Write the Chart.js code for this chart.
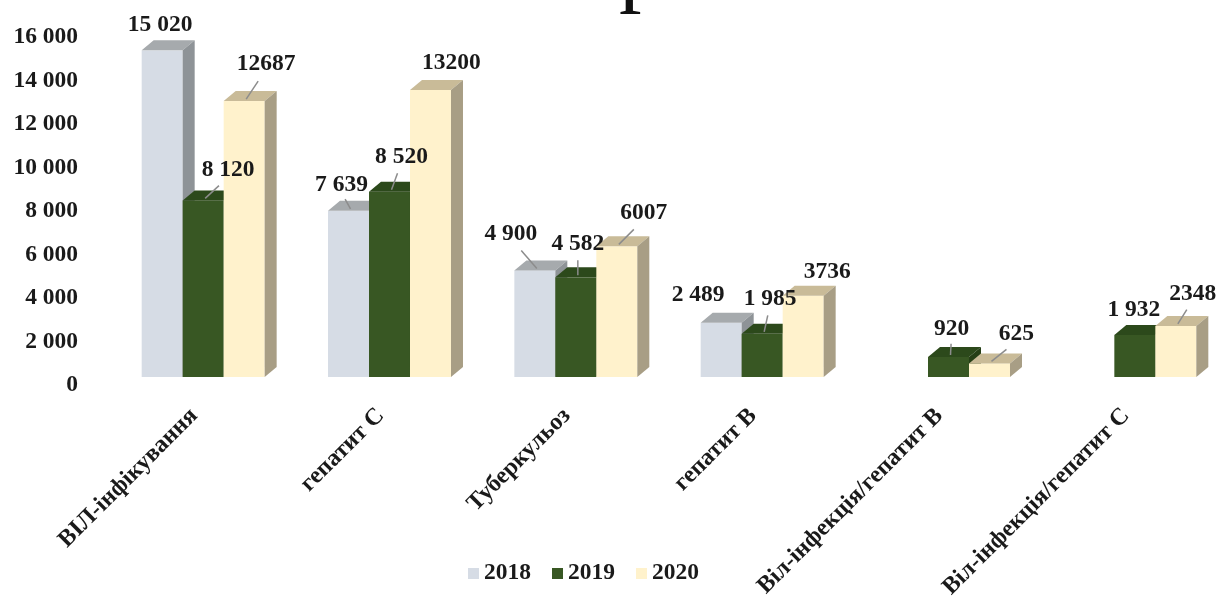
<!DOCTYPE html>
<html lang="uk">
<head>
<meta charset="utf-8">
<title>Захворювання 2018–2020</title>
<script src="https://cdn.jsdelivr.net/npm/chart.js@4.4.1/dist/chart.umd.min.js"></script>
<style>
  html, body { margin: 0; padding: 0; background: #fff; overflow: hidden; }
  #wrap { position: relative; width: 1232px; height: 596px; }
</style>
</head>
<body>
<div id="wrap"><canvas id="chart"></canvas></div>
<script>
// Категорії та значення по роках
const categories = [
  'ВІЛ-інфікування',
  'гепатит С',
  'Туберкульоз',
  'гепатит В',
  'Віл-інфекція/гепатит В',
  'Віл-інфекція/гепатит С'
];
const years = ['2018', '2019', '2020'];
const values2018 = [15020, 7639, 4900, 2489, null, null];
const values2019 = [8120, 8520, 4582, 1985, 920, 1932];
const values2020 = [12687, 13200, 6007, 3736, 625, 2348];
const yTicks = [0, 2000, 4000, 6000, 8000, 10000, 12000, 14000, 16000];

// Кольори граней: фронт, верх, бік
const faceColors = [
  { front: '#d6dce5', top: '#a6aaad', side: '#8e9397' },
  { front: '#385723', top: '#2c491b', side: '#253f16' },
  { front: '#fff2cc', top: '#c9bb98', side: '#a89e85' }
];

// Зсув підписів відносно верху стовпчика, та чи малювати виносну лінію
const labelOffsets = [
  [[-2, -25], [-7, -26], [-24, -37], [-23, -28], null, null],
  [[25, -30], [12, -35], [2, -33], [8, -35], [3, -28], [-1, -25]],
  [[22, -37], [21, -27], [27, -33], [24, -24], [27, -29], [17, -32]]
];
const leaderLines = [
  [false, true, true, false, false, false],
  [true, true, true, true, true, false],
  [true, false, true, false, true, true]
];
// Роки 2018-2019 з пробілом між тисячами, 2020 - без
const spacedThousands = [true, true, false];

const DEPTH_X = 12;
const DEPTH_Y = 10;
const LIFT = 8;
const FONT = 'Liberation Serif, Times New Roman, serif';
const TEXT_SIZE = 23.5;

function formatSpaced(v) {
  return String(v).replace(/\B(?=(\d{3})+(?!\d))/g, ' ');
}

// Малює об'ємні стовпчики поверх (прозорих) стандартних
const bar3d = {
  id: 'bar3d',
  afterDatasetsDraw(chart) {
    const ctx = chart.ctx;
    const metas = chart.data.datasets.map((d, i) => chart.getDatasetMeta(i));
    ctx.save();
    for (let c = 0; c < categories.length; c++) {
      metas.forEach((meta, di) => {
        const value = chart.data.datasets[di].data[c];
        if (value === null || value === undefined) return;
        const el = meta.data[c];
        const p = el.getProps(['x', 'y', 'base', 'width'], true);
        const x0 = p.x - p.width / 2;
        const x1 = p.x + p.width / 2;
        const top = p.y - LIFT;
        const bottom = p.base - LIFT;
        const col = faceColors[di];

        ctx.fillStyle = col.front;
        ctx.fillRect(x0, top, x1 - x0, bottom - top);

        ctx.fillStyle = col.top;
        ctx.beginPath();
        ctx.moveTo(x0, top);
        ctx.lineTo(x0 + DEPTH_X, top - DEPTH_Y);
        ctx.lineTo(x1 + DEPTH_X, top - DEPTH_Y);
        ctx.lineTo(x1, top);
        ctx.closePath();
        ctx.fill();

        ctx.fillStyle = col.side;
        ctx.beginPath();
        ctx.moveTo(x1, top);
        ctx.lineTo(x1 + DEPTH_X, top - DEPTH_Y);
        ctx.lineTo(x1 + DEPTH_X, bottom - DEPTH_Y);
        ctx.lineTo(x1, bottom);
        ctx.closePath();
        ctx.fill();
      });
    }
    ctx.restore();
  }
};

// Підписи значень з виносними лініями
const valueLabels = {
  id: 'valueLabels',
  afterDatasetsDraw(chart) {
    const ctx = chart.ctx;
    ctx.save();
    ctx.font = 'bold ' + TEXT_SIZE + 'px ' + FONT;
    ctx.textAlign = 'center';
    ctx.textBaseline = 'middle';
    chart.data.datasets.forEach((ds, di) => {
      const meta = chart.getDatasetMeta(di);
      ds.data.forEach((value, c) => {
        if (value === null || value === undefined) return;
        const el = meta.data[c];
        const off = labelOffsets[di][c];
        const bx = el.x;
        const by = el.y - LIFT;
        const lx = bx + off[0];
        const ly = by + off[1];
        if (leaderLines[di][c]) {
          const sx = bx + 2, sy = by - 2;
          const ex = lx + (sx - lx) * 0.4;
          const ey = ly + 11 + (sy - ly - 11) * 0.25;
          ctx.strokeStyle = '#8c8c8c';
          ctx.lineWidth = 1.5;
          ctx.beginPath();
          ctx.moveTo(sx, sy);
          ctx.lineTo(ex, ey);
          ctx.stroke();
        }
        ctx.fillStyle = '#1a1a1a';
        const text = spacedThousands[di] ? formatSpaced(value) : String(value);
        ctx.fillText(text, lx, ly);
      });
    });
    ctx.restore();
  }
};

// Легенда внизу та залишок заголовка над графіком
const bottomLegend = {
  id: 'bottomLegend',
  afterDraw(chart) {
    const ctx = chart.ctx;
    ctx.save();
    ctx.font = '90px ' + FONT;
    ctx.fillStyle = '#111';
    ctx.textAlign = 'left';
    ctx.textBaseline = 'alphabetic';
    ctx.fillText('р', 619, -5);

    ctx.font = 'bold ' + TEXT_SIZE + 'px ' + FONT;
    ctx.textBaseline = 'middle';
    let x = 468;
    const y = 573;
    chart.data.datasets.forEach((ds, di) => {
      ctx.fillStyle = faceColors[di].front;
      ctx.fillRect(x, y - 5, 11, 11);
      ctx.fillStyle = '#1a1a1a';
      ctx.fillText(ds.label, x + 16, y);
      x += 16 + ctx.measureText(ds.label).width + 21;
    });
    ctx.restore();
  }
};

const seriesValues = [values2018, values2019, values2020];

new Chart(document.getElementById('chart'), {
  type: 'bar',
  data: {
    labels: categories,
    datasets: years.map((year, i) => ({
      label: year,
      data: seriesValues[i],
      backgroundColor: 'rgba(0,0,0,0)',
      borderWidth: 0,
      categoryPercentage: 0.66,
      barPercentage: 1.0
    }))
  },
  options: {
    responsive: true,
    maintainAspectRatio: false,
    animation: false,
    events: [],
    layout: { padding: { top: 37, right: 4, left: 0, bottom: 0 } },
    plugins: {
      legend: { display: false },
      tooltip: { enabled: false },
      title: { display: false }
    },
    scales: {
      x: {
        grid: { display: false, drawTicks: false },
        border: { display: false },
        ticks: {
          autoSkip: false,
          minRotation: 45,
          maxRotation: 45,
          padding: 17,
          labelOffset: -9,
          color: '#1a1a1a',
          font: { family: FONT, size: 24, weight: 'bold' }
        },
        afterFit(scale) {
          scale.height = 211;
          scale.paddingLeft = 0;
          scale.paddingRight = 0;
        }
      },
      y: {
        min: 0,
        max: 16000,
        afterBuildTicks(scale) {
          scale.ticks = yTicks.map(v => ({ value: v }));
        },
        grid: { display: false, drawTicks: false },
        border: { display: false },
        ticks: {
          padding: 32,
          color: '#1a1a1a',
          font: { family: FONT, size: TEXT_SIZE, weight: 'bold' },
          callback: v => formatSpaced(v)
        },
        afterFit(scale) {
          scale.width = 110;
          scale.paddingTop = 0;
          scale.paddingBottom = 0;
        }
      }
    }
  },
  plugins: [bar3d, valueLabels, bottomLegend]
});
</script>
</body>
</html>
